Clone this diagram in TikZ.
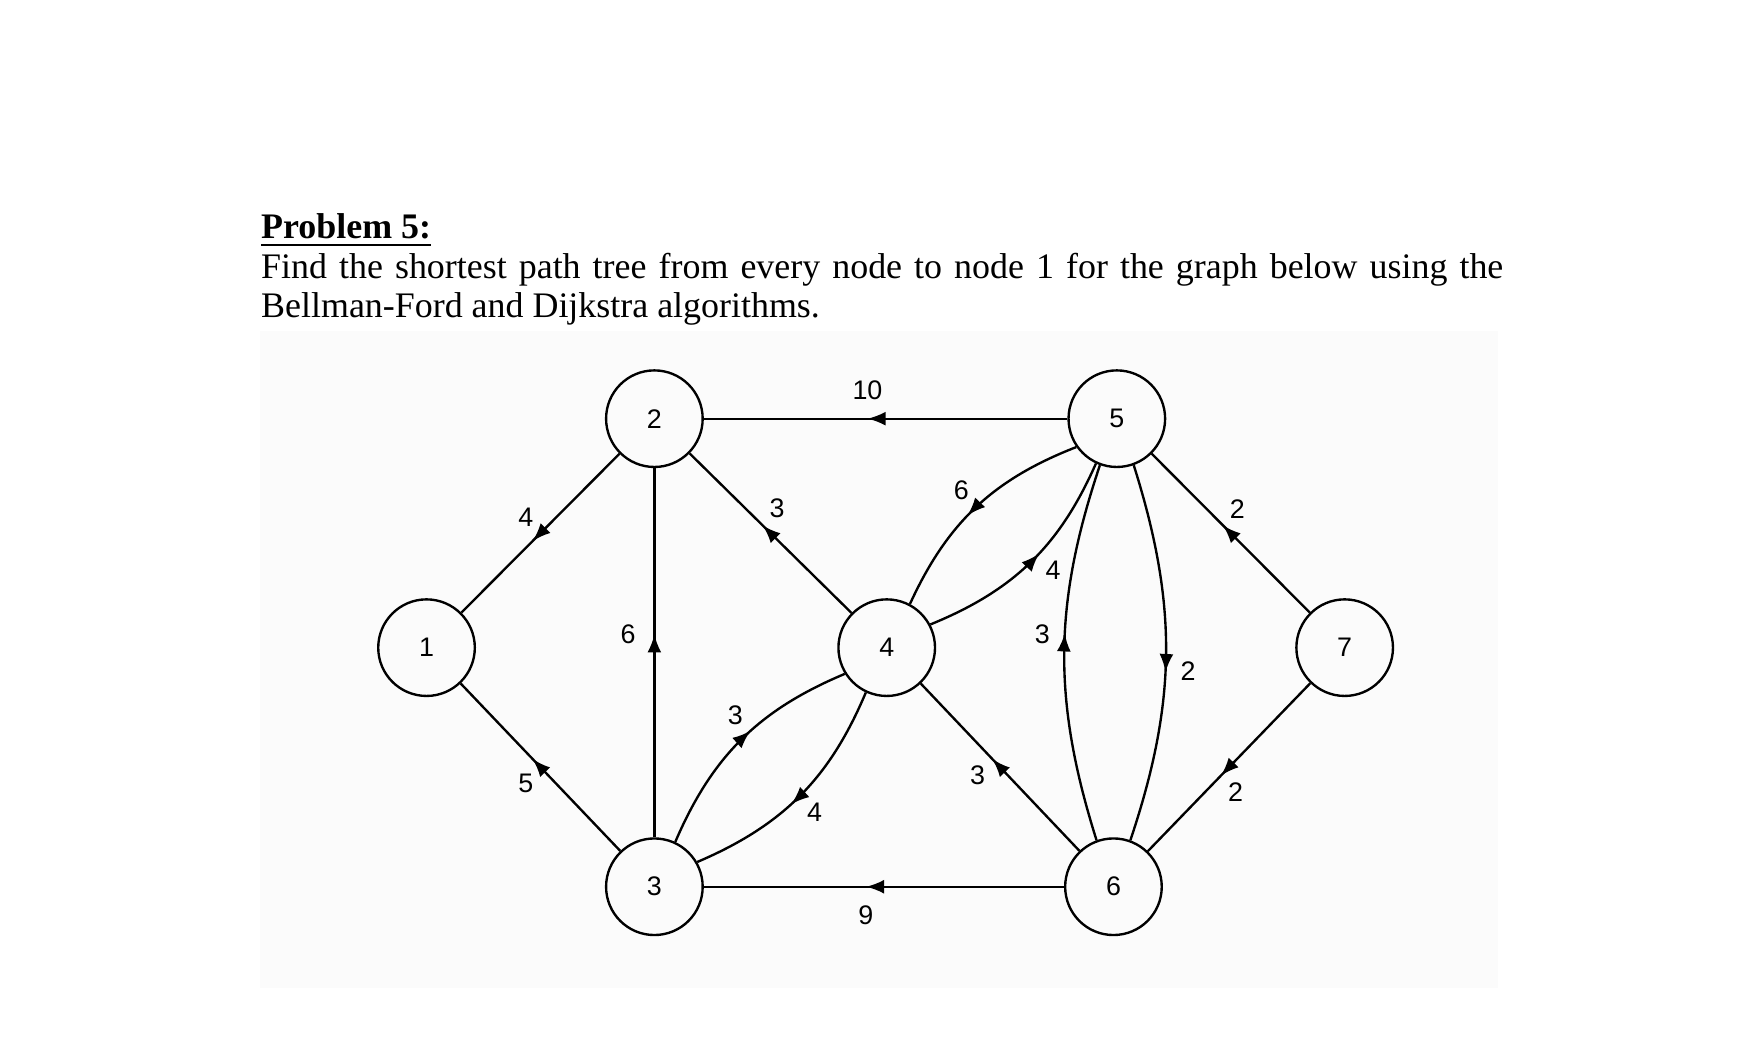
\documentclass[tikz,border=0pt]{standalone}
\usepackage{fontspec}
\setmainfont{Liberation Serif}
\newfontfamily\labelfont{Liberation Sans}
\usetikzlibrary{decorations.markings}
\tikzset{
% graph nodes and weighted arcs with arrow at the middle
vertex/.style={circle,draw,semithick,minimum size=0.86cm,inner sep=0,font=\labelfont\fontsize{6.8}{8}\selectfont},
weight/.style={font=\labelfont\fontsize{6.8}{8}\selectfont,inner sep=1.5pt},
arc/.style={semithick,decoration={markings,mark=at position .55 with {\arrow{latex}}},postaction=decorate}
}
\begin{document}
\begin{tikzpicture}[x=0.01cm,y=-0.01cm]
\useasboundingbox (0,0) rectangle (1560,923);
\fill[gray!3] (232,295) rectangle (1335,880);
\node[anchor=north west,text width=11.06cm,align=justify,inner sep=0,
  font=\fontsize{9.1}{10}\selectfont] (task) at (232,190)
  {\textbf{\underline{Problem 5:}}\\
   Find the shortest path tree from every node to node 1 for the graph below using the Bellman-Ford and Dijkstra algorithms.};
\node[vertex] (n1) at (380,577) {1};
\node[vertex] (n2) at (583,373) {2};
\node[vertex] (n3) at (583,790) {3};
\node[vertex] (n4) at (790,577) {4};
\node[vertex] (n5) at (995,373) {5};
\node[vertex] (n6) at (992,790) {6};
\node[vertex] (n7) at (1198,577) {7};
% straight arcs
\draw[arc] (n5) -- (n2) node[weight,pos=.55,above=3pt] {10};
\draw[arc] (n6) -- (n3) node[weight,pos=.55,below=3pt] {9};
\draw[arc] (n2) -- (n1) node[weight,pos=.5,above left] {4};
\draw[arc] (n3) -- (n1) node[weight,pos=.5,below left] {5};
\draw[arc] (n3) -- (n2) node[weight,pos=.55,left=3pt] {6};
\draw[arc] (n4) -- (n2) node[weight,pos=.55,above right] {3};
\draw[arc] (n6) -- (n4) node[weight,pos=.55,below left] {3};
\draw[arc] (n7) -- (n5) node[weight,pos=.55,above right] {2};
\draw[arc] (n7) -- (n6) node[weight,pos=.55,below right] {2};
% curved pairs
\draw[arc] (n5.215) to[bend right=22] node[weight,pos=.5,above left] {6} (n4.62);
\draw[arc] (n4.28) to[bend right=22] node[weight,pos=.55,below right] {4} (n5.245);
\draw[arc] (n3.65) to[bend left=22] node[weight,pos=.55,above left] {3} (n4.212);
\draw[arc] (n4.245) to[bend left=22] node[weight,pos=.5,below right] {4} (n3.30);
\draw[arc] (n6.110) to[bend left=18] node[weight,pos=.55,left=2pt] {3} (n5.250);
\draw[arc] (n5.290) to[bend left=18] node[weight,pos=.55,right=2pt] {2} (n6.70);
\end{tikzpicture}
\end{document}
